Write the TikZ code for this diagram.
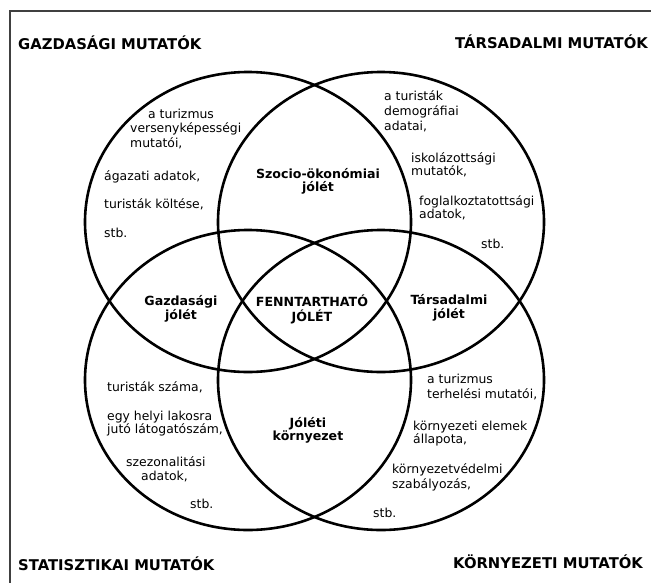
\documentclass[tikz,border=0pt]{standalone}
\usepackage{fontspec}
\setmainfont{DejaVu Sans}
\begin{document}
\begin{tikzpicture}[x=1pt,y=-1pt,
  frameline/.style={draw=black!75,line width=2pt},
  ring/.style={draw=black,line width=2.6pt},
  txt/.style={font=\fontsize{12.4}{14}\selectfont,anchor=base west,inner sep=0pt},
  lbl/.style={font=\fontsize{12.6}{14}\selectfont\bfseries,anchor=base,inner sep=0pt},
  head/.style={font=\fontsize{14.8}{17}\selectfont\bfseries,anchor=base west,inner sep=0pt}]
\useasboundingbox (0,0) rectangle (651,582);
\fill[white] (0,0) rectangle (651,582);
% frame (only top and left edges are visible)
\coordinate (ftr) at (660,11);
\coordinate (ftl) at (10,11);
\coordinate (fbl) at (10,590);
\draw[frameline] (ftr) -- (ftl) -- (fbl);
% ellipses
\coordinate (cTL) at (248,222);
\coordinate (cTR) at (381,222);
\coordinate (cBL) at (248,380);
\coordinate (cBR) at (381,380);
\draw[ring] (cTL) ellipse [x radius=163pt, y radius=150pt];
\draw[ring] (cTR) ellipse [x radius=163pt, y radius=150pt];
\draw[ring] (cBL) ellipse [x radius=163pt, y radius=150pt];
\draw[ring] (cBR) ellipse [x radius=163pt, y radius=150pt];
% headings
\node[head] (hGM) at (18,49) {GAZDASÁGI MUTATÓK};
\node[head] (hTM) at (455,48) {TÁRSADALMI MUTATÓK};
\node[head] (hSM) at (18,570) {STATISZTIKAI MUTATÓK};
\node[head] (hKM) at (453,568) {KÖRNYEZETI MUTATÓK};
% top-left texts
\node[txt] (tl1) at (148,118) {a turizmus};
\node[txt] (tl2) at (130,132) {versenyképességi};
\node[txt] (tl3) at (130,147) {mutatói,};
\node[txt] (tl4) at (104,180) {ágazati adatok,};
\node[txt] (tl5) at (104,208) {turisták költése,};
\node[txt] (tl6) at (104,237) {stb.};
% top-right texts
\node[txt] (tr1) at (384,100) {a turisták};
\node[txt] (tr2) at (384,115) {demográfiai};
\node[txt] (tr3) at (384,130) {adatai,};
\node[txt] (tr4) at (411,162) {iskolázottsági};
\node[txt] (tr5) at (411,175) {mutatók,};
\node[txt] (tr6) at (419,205) {foglalkoztatottsági};
\node[txt] (tr7) at (419,218) {adatok,};
\node[txt] (tr8) at (481,248) {stb.};
% bottom-left texts
\node[txt] (bl1) at (107,391) {turisták száma,};
\node[txt] (bl2) at (107,420) {egy helyi lakosra};
\node[txt] (bl3) at (107,433) {jutó látogatószám,};
\node[txt] (bl4) at (126,466) {szezonalitási};
\node[txt] (bl5) at (141,480) {adatok,};
\node[txt] (bl6) at (190,508) {stb.};
% bottom-right texts
\node[txt] (br1) at (427,383) {a turizmus};
\node[txt] (br2) at (427,398) {terhelési mutatói,};
\node[txt] (br3) at (413,430) {környezeti elemek};
\node[txt] (br4) at (413,443) {állapota,};
\node[txt] (br5) at (392,473) {környezetvédelmi};
\node[txt] (br6) at (392,488) {szabályozás,};
\node[txt] (br7) at (373,517) {stb.};
% bold labels
\node[lbl] (so1) at (318,178) {Szocio-ökonómiai};
\node[lbl] (so2) at (318,191) {jólét};
\node[lbl] (gj1) at (181,305) {Gazdasági};
\node[lbl] (gj2) at (181,319) {jólét};
\node[lbl] (fj1) at (312,306) {FENNTARTHATÓ};
\node[lbl] (fj2) at (312,321) {JÓLÉT};
\node[lbl] (tj1) at (449,304) {Társadalmi};
\node[lbl] (tj2) at (449,318) {jólét};
\node[lbl] (jk1) at (308,427) {Jóléti};
\node[lbl] (jk2) at (308,440) {környezet};
\end{tikzpicture}
\end{document}
